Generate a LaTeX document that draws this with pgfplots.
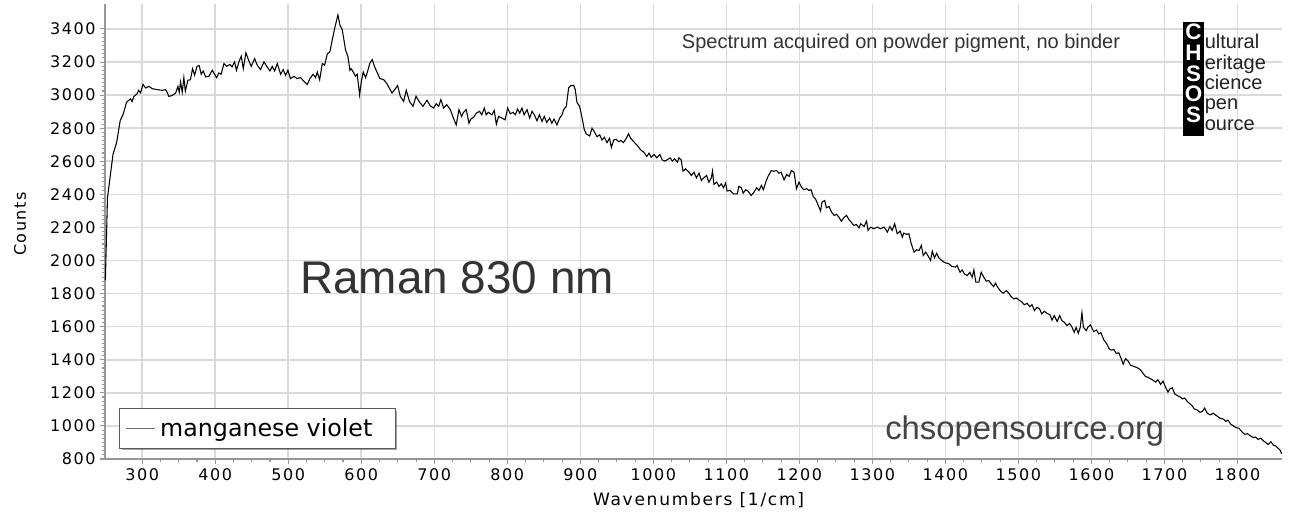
\documentclass[border=0pt]{standalone}
\usepackage{fontspec}
\usepackage{pgfplots}
\pgfplotsset{compat=1.18}
\usetikzlibrary{shadows}
\setmainfont{DejaVu Sans}
\newfontfamily\vfont[LetterSpace=10]{DejaVu Sans}
\newfontfamily\afont{Liberation Sans}
\definecolor{gridc}{RGB}{218,218,218}
\definecolor{axc}{RGB}{150,150,150}
\definecolor{txtg}{RGB}{51,51,51}
\definecolor{legb}{RGB}{90,90,90}
\definecolor{legl}{RGB}{110,110,110}
\makeatletter
\tikzset{noshadow/.code={\let\tikz@preactions\pgfutil@empty}}
\makeatother
\begin{document}
\begin{tikzpicture}
\path[use as bounding box] (0pt,0pt) rectangle (969.75pt,393pt);
\begin{axis}[
  at={(78.75pt,48.75pt)}, anchor=south west,
  width=882.75pt, height=341.25pt, scale only axis,
  xmin=249, xmax=1861, ymin=800, ymax=3551,
  axis lines=left,
  axis line style={draw=axc, line width=1.2pt, -},
  xtick={300,400,...,1800}, ytick={800,1000,...,3400},
  minor x tick num=3, minor y tick num=7,
  tick align=outside,
  major tick length=3.5pt, minor tick length=2pt,
  every tick/.style={draw=axc, line width=0.8pt},
  grid=major,
  major grid style={draw=gridc, line width=1.2pt},
  /pgf/number format/assume math mode=true,
  /pgf/number format/1000 sep={},
  tick label style={font=\fontsize{12}{14}\vfont, text=black},
  xlabel={Wavenumbers [1/cm]},
  ylabel={Counts},
  xlabel style={font=\fontsize{12.8}{15}\vfont, at={(axis description cs:0.5043,-0.0901)}, anchor=center},
  ylabel style={font=\fontsize{12}{14}\vfont, at={(axis description cs:-0.0722,0.5165)}, anchor=center, rotate=0},
  legend style={at={(axis description cs:0.0119,0.022)}, anchor=south west,
    draw=legb, line width=0.75pt, fill=white,
    drop shadow={shadow xshift=1.5pt, shadow yshift=-1.5pt, fill=black, opacity=0.35},
    font=\fontsize{17.8}{20}\selectfont, inner xsep=4.5pt, inner ysep=5.4pt},
  legend cell align=left,
  legend image code/.code={\draw[noshadow, draw=legl, line width=0.8pt] (0pt,0pt) -- (21.75pt,0pt);},
]
\addplot[black, line width=0.8pt] coordinates {
(249.5,1880) (252.4,2379) (260,2643) (265,2714) (269.8,2846) (274,2886) (278.5,2957) (284,2978) (286,2961) (288.6,2992)
(293,3008) (295,3029) (297.7,3014) (301,3065) (304.6,3043) (309,3053) (313.7,3039) (320.5,3033) (327,3029) (332,3033)
(334,3018) (336.5,2992) (341,2998) (345.7,3012) (348.9,3053) (350.7,3018) (352.5,3079) (354.8,3018) (357,3106) (359,3024)
(362.5,3090) (366,3093) (368.9,3160) (371.7,3120) (375,3174) (378,3179) (380.8,3126) (383.6,3146) (386.8,3110) (391.3,3114)
(395.9,3150) (398,3134) (401.8,3106) (405,3134) (408,3126) (411.9,3191) (415.5,3174) (420,3185) (423,3171) (426.5,3201)
(429,3150) (432.4,3201) (435.6,3236) (438.4,3160) (442,3256) (446,3207) (449.3,3174) (453.9,3221) (457.5,3181) (462,3154)
(466.7,3201) (471,3171) (475,3146) (478,3174) (481.3,3146) (485,3191) (489.5,3126) (493,3154) (496.3,3120) (499.5,3150)
(503,3100) (507.8,3114) (512,3100) (516.9,3106) (521.5,3083) (526,3065) (529.7,3100) (534,3126) (537.4,3106) (539.7,3140)
(543,3093) (546.6,3191) (549.8,3181) (553.4,3248) (557,3262) (560,3329) (563.9,3410) (568,3485) (570.7,3424) (574,3394)
(578.5,3272) (581.7,3232) (584.5,3150) (586,3160) (589,3140) (592,3114) (594.5,3126) (597.7,3002) (600,3079) (602.7,3140)
(605.9,3106) (608,3134) (611.9,3195) (615,3215) (618,3174) (622,3134) (625.6,3100)
(630.6,3094) (635,3070) (642,3013) (646.6,3038) (649.8,3058) (653.4,2993) (658,2962) (661.6,3029) (666,2962) (670.8,2932)
(675,2993) (680,2956) (684.5,2932) (690,2969) (694.5,2936) (699,2922) (702.7,2948) (706,2932) (709,2973) (712.8,2922)
(717,2942) (722,2912) (725.6,2867) (730,2820) (733.8,2912) (737.4,2871) (740,2896) (743.8,2912) (747.5,2830) (750,2855)
(754,2867) (757.5,2891) (762,2902) (765,2881) (768.5,2922) (771,2881) (774,2896) (779,2881) (782,2908) (785,2824)
(788,2871) (792.7,2861) (797,2851) (800.5,2922) (804,2887) (807.8,2896) (811,2881) (814,2916) (817,2891) (820,2922)
(823,2881) (827,2912) (830.6,2861) (833.8,2902) (837,2881) (840.6,2845) (844,2881) (847.5,2841) (850.7,2871) (854,2835)
(858,2861) (861,2830) (864,2855) (868,2820) (871.7,2861) (875,2881) (877,2912) (880.8,2932) (884,3044) (887,3058)
(891,3058) (893,3034) (895.4,2956) (899,2932) (902,2871) (905.5,2790) (908,2766) (912.8,2753) (916,2800) (919,2780)
(922.8,2749) (926.5,2760) (929.7,2729) (933,2745) (936.5,2713) (940,2739) (942.5,2684) (945.7,2729) (949,2733) (952.5,2719)
(955.7,2725) (959,2713) (963,2739) (966,2766) (969,2739) (973,2719) (977.5,2698) (981,2678)
(983.6,2665) (987,2655) (991,2629) (994,2649) (997,2625) (1001,2641) (1004.6,2621) (1009,2641) (1012,2609) (1015.5,2601)
(1019,2609) (1023,2621) (1026,2601) (1029,2615) (1033,2595) (1035,2621) (1038,2609) (1040.6,2540) (1044,2554) (1049,2534)
(1052,2514) (1055.7,2534) (1059,2500) (1062.6,2528) (1065.8,2484) (1069,2500) (1073,2514) (1076,2474) (1079.5,2500) (1081,2540)
(1083,2460) (1086.8,2474) (1090,2448) (1093,2464) (1096,2440) (1099,2468) (1101,2420) (1105,2424) (1109.6,2403) (1115,2403)
(1117,2448) (1120.5,2440) (1123,2407) (1126.5,2428) (1129.7,2420) (1134,2393) (1138,2414) (1141.5,2440) (1144.7,2424) (1148,2454)
(1150.7,2428) (1154,2474) (1157,2508) (1161.6,2544) (1165,2540) (1169,2544) (1172,2528) (1175,2534) (1179,2488) (1182.6,2520)
(1186,2508) (1189,2544) (1192.7,2534) (1196,2434) (1199.5,2474) (1202.7,2444) (1206,2428) (1210,2434) (1213,2424) (1216,2428)
(1219,2387) (1222,2373) (1225,2343) (1229,2299) (1231,2353) (1234.7,2363) (1237,2319) (1240.6,2327) (1244,2293) (1247.5,2273)
(1251,2279) (1254,2263) (1257.5,2238) (1261,2259) (1264.6,2273) (1268,2246) (1271,2232) (1274.5,2212) (1278,2218) (1281.7,2198)
(1284,2222) (1288.6,2206) (1292,2238) (1294,2182) (1297.7,2202) (1302,2192) (1306.8,2202) (1311,2192) (1316,2202) (1320.5,2172)
(1324,2206) (1327,2182) (1330.5,2222) (1334,2162) (1338,2178) (1341,2141) (1343,2166) (1347,2158) (1350,2162) (1353,2105)
(1357,2051) (1360.6,2065) (1364,2061) (1367,2091) (1369.7,2030) (1373,2051) (1376,2030) (1379.7,2000) (1382,2057) (1385,2016)
(1388,2044) (1391,2016) (1394,2004) (1398,1990) (1401.6,1984) (1404.8,1980) (1409,1964) (1414,1960) (1416,1970) (1420,1929)
(1423,1943) (1426,1919) (1430,1909) (1433.5,1929) (1436.7,1899) (1439,1943) (1441.7,1869) (1445.8,1869) (1449,1929) (1452.6,1899)
(1456,1875) (1459.5,1879) (1462.6,1859) (1466,1842) (1468.6,1863) (1471.7,1838) (1475,1818) (1479,1802) (1483.6,1818) (1486.8,1802)
(1490,1782) (1493.6,1768) (1497,1774) (1501.8,1758) (1505,1748) (1508,1733) (1512,1741) (1515.5,1721) (1518.7,1733) (1522,1697)
(1525.5,1717) (1529,1707) (1532,1677) (1535.5,1693) (1539,1681) (1543,1673) (1546,1640) (1549,1667) (1553,1632) (1556.5,1667)
(1559.7,1636) (1563,1626) (1566.5,1606) (1570,1620) (1573,1600) (1576.5,1566) (1579,1596) (1582,1560) (1584.7,1596) (1587,1684)
(1589,1596) (1593,1576) (1595,1596)
(1598.6,1611) (1603,1570) (1607,1580) (1610,1556) (1613,1564) (1617,1519) (1620.6,1499) (1624,1468) (1627,1458) (1630.7,1462)
(1634,1438) (1637.5,1442) (1640.7,1407) (1643.5,1373) (1646.7,1407) (1650,1393) (1653.5,1367) (1658,1360) (1662.7,1352) (1667,1340)
(1671,1316) (1674,1299) (1677,1295) (1681,1285) (1684.7,1275) (1688,1265) (1691,1279) (1694.7,1251) (1698,1271) (1701.6,1234)
(1704.8,1204) (1707.5,1224) (1710.8,1230) (1714,1194) (1717.6,1183) (1721,1177) (1724.5,1163) (1727.7,1169) (1731,1149) (1735,1133)
(1738,1122) (1741,1102) (1745,1096) (1748.7,1082) (1752,1088) (1755,1108) (1758.8,1076) (1762.5,1067) (1767,1076) (1771.6,1061)
(1776,1047) (1780.8,1041) (1784,1027) (1787,1035) (1790.8,1010) (1794.5,1000) (1797.7,990) (1802,986) (1807,960) (1810,949)
(1813.7,953) (1818,939) (1822,929) (1825,933) (1828,919) (1832,925) (1835.7,909) (1839,899) (1842,888) (1845.8,905)
(1849,884) (1852.6,878) (1856,864) (1858.6,852) (1860.5,831)
};
\addlegendentry{\hspace*{1.5pt}manganese violet\hspace*{10.5pt}}
\end{axis}
\begin{scope}[x=0.75pt,y=-0.75pt,shift={(0pt,393pt)}]
\node[anchor=base, inner sep=0pt, text=txtg, font=\fontsize{15}{17}\afont] at (901,48.3) {Spectrum acquired on powder pigment, no binder};
\node[anchor=base west, inner sep=0pt, text=txtg, font=\fontsize{34.4}{40}\afont] at (300,294) {Raman 830 nm};
\node[anchor=base west, inner sep=0pt, text={rgb,255:red,68;green,68;blue,68}, font=\fontsize{24.6}{29}\afont] at (885,440) {chsopensource.org};
\fill[black] (1183,22) rectangle (1204,136);
\node[anchor=north, inner sep=0pt, align=center, text=white, font=\fontsize{16.8}{15.5}\afont\bfseries] at (1193.5,23.8) {C\\H\\S\\O\\S};
\node[anchor=north west, inner sep=0pt, align=left, text={rgb,255:red,34;green,34;blue,34}, font=\fontsize{15}{15.3}\afont] at (1204.5,34) {ultural\\eritage\\cience\\pen\\ource};
\end{scope}
\end{tikzpicture}
\end{document}
